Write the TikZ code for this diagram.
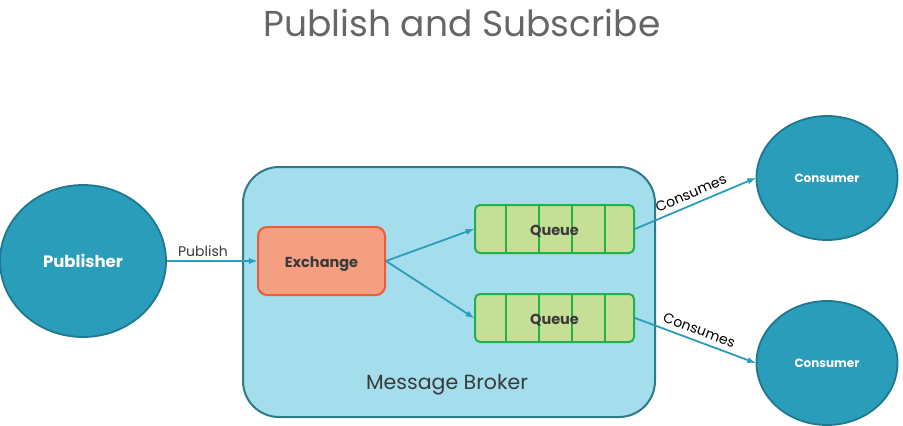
\documentclass[tikz,border=0pt]{standalone}
\usepackage{fontspec}
\setmainfont{Poppins}
\usetikzlibrary{shapes.geometric}
\definecolor{brokerFill}{HTML}{A4DDEB}
\definecolor{brokerLine}{HTML}{2B7B8C}
\definecolor{exchFill}{HTML}{F59F81}
\definecolor{exchLine}{HTML}{EE5B36}
\definecolor{queueFill}{HTML}{C5DF97}
\definecolor{queueLine}{HTML}{22B14C}
\definecolor{roleFill}{HTML}{2A9DBB}
\definecolor{roleLine}{HTML}{1F7890}
\definecolor{textDark}{HTML}{3A3A3A}
\begin{document}
\begin{tikzpicture}[
    x=1pt, y=-1pt,
    role/.style={ellipse, draw=roleLine, fill=roleFill, line width=1.8pt, inner sep=0pt, text=white, font=\bfseries},
    queueBox/.style={draw=queueLine, fill=queueFill, line width=2pt, rounded corners=5pt, minimum width=159pt, minimum height=48pt, font=\bfseries\fontsize{14.5}{16}\selectfont, text=textDark},
    flow/.style={->, >={latex}, draw=roleFill, line width=1.8pt},
    every node/.style={
        text centered,
        }
        ]
    \useasboundingbox (0,0) rectangle (903,426);

    \node[text=black!60, font=\fontsize{36}{42}\selectfont] (title) at (462,23) {Publish and Subscribe};

    \node[draw=brokerLine, fill=brokerFill, line width=2pt, rounded corners=36pt, minimum width=412pt, minimum height=250pt] (broker) at (449,292) {};
    \node[text=textDark, font=\fontsize{20.5}{24}\selectfont] (brokerLabel) at (447,385) {Message Broker};

    \node[role, minimum width=166pt, minimum height=152pt, font=\bfseries\fontsize{16.5}{18}\selectfont] (publisher) at (83,261) {Publisher};
    \node[role, minimum width=141pt, minimum height=124pt, font=\bfseries\fontsize{12}{14}\selectfont] (consumerA) at (827,178) {Consumer};
    \node[role, minimum width=141pt, minimum height=124pt, font=\bfseries\fontsize{12}{14}\selectfont] (consumerB) at (827,363) {Consumer};

    \node[draw=exchLine, fill=exchFill, line width=2pt, rounded corners=9pt, minimum width=127pt, minimum height=68pt, text=textDark, font=\bfseries\fontsize{14.5}{16}\selectfont] (exchange) at (321.5,261) {};
    \node[text=textDark, font=\bfseries\fontsize{14.5}{16}\selectfont] (exchangeLabel) at (321.5,264) {Exchange};

    \node[queueBox] (queueA) at (554.5,229) {};
    \node[queueBox] (queueB) at (554.5,318) {};
    \foreach \q in {queueA, queueB}
        \foreach \dx in {32, 65, 98, 131}
            \draw[draw=queueLine, line width=2pt] (\q.north west) ++(\dx,0) -- ++(0,48);
    \node[queueBox, draw=none, fill=none, yshift=-2pt] (queueLabelA) at (queueA) {Queue};
    \node[queueBox, draw=none, fill=none, yshift=-2pt] (queueLabelB) at (queueB) {Queue};

    \draw[flow] (publisher.east) -- node[above, pos=0.4, text=textDark, font=\fontsize{14}{16}\selectfont] {Publish} (exchange.west);
    \draw[flow] (exchange.east) -- (queueA.west);
    \draw[flow] (exchange.east) -- (queueB.west);
    \draw[flow] (queueA.east) -- node[sloped, above=2pt, text=black, font=\fontsize{14}{16}\selectfont] {Consumes} (consumerA.west);
    \draw[flow] (queueB.east) -- node[sloped, above=2pt, text=black, font=\fontsize{14}{16}\selectfont] {Consumes} (consumerB.west);
\end{tikzpicture}
\end{document}
